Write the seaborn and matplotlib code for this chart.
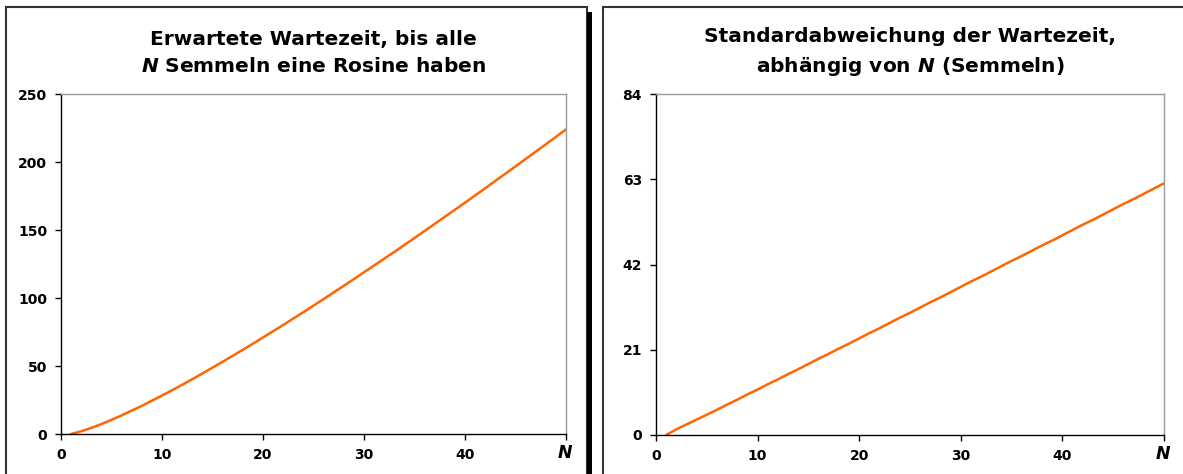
import numpy as np
import pandas as pd
import matplotlib
matplotlib.use("Agg")
import matplotlib.pyplot as plt
import seaborn as sns
from matplotlib.patches import Rectangle

# Daten
n_werte = list(range(1, 51))
erwartung = [0.0, 2.0, 4.5, 7.3, 10.4, 13.7, 17.2, 20.7, 24.5, 28.3,
             32.2, 36.2, 40.3, 44.5, 48.8, 53.1, 57.5, 61.9, 66.4, 71.0,
             75.6, 80.2, 84.9, 89.6, 94.4, 99.2, 104.1, 109.0, 113.9, 118.9,
             123.9, 128.9, 133.9, 139.0, 144.1, 149.3, 154.5, 159.7, 164.9, 170.1,
             175.4, 180.7, 186.1, 191.4, 196.8, 202.2, 207.6, 213.0, 218.5, 224.0]
stdabw = [0.0, 1.4, 2.6, 3.8, 5.0, 6.2, 7.5, 8.7, 10.0, 11.2,
          12.5, 13.7, 15.0, 16.2, 17.5, 18.8, 20.0, 21.3, 22.5, 23.8,
          25.1, 26.3, 27.6, 28.9, 30.1, 31.4, 32.7, 33.9, 35.2, 36.5,
          37.8, 39.0, 40.3, 41.6, 42.9, 44.1, 45.4, 46.7, 47.9, 49.2,
          50.5, 51.8, 53.0, 54.3, 55.6, 56.9, 58.1, 59.4, 60.7, 62.0]

titel_links = "Erwartete Wartezeit, bis alle\n$N$ Semmeln eine Rosine haben"
titel_rechts = "Standardabweichung der Wartezeit,\nabhängig von $N$ (Semmeln)"
yticks_links = [0, 50, 100, 150, 200, 250]
yticks_rechts = [0, 21, 42, 63, 84]
xticks = [0, 10, 20, 30, 40, 50]
xticklabels = ["0", "10", "20", "30", "40", ""]

df = pd.DataFrame({"N": n_werte, "E": erwartung, "S": stdabw})

sns.set_style("white")
plt.rcParams['font.family'] = ['DejaVu Sans']
plt.rcParams['text.color'] = 'black'
plt.rcParams['xtick.color'] = 'black'
plt.rcParams['ytick.color'] = 'black'
plt.rcParams['mathtext.fontset'] = 'custom'
plt.rcParams['mathtext.it'] = 'DejaVu Sans:bold:italic'
plt.rcParams['mathtext.rm'] = 'DejaVu Sans:bold'

W, H = 1183, 474
fig = plt.figure(figsize=(W / 100, H / 100), dpi=100)
fig.patch.set_facecolor("white")


def px_ax(x0, x1, y0, y1):
    # Pixelkoordinaten -> Figurenkoordinaten
    return [x0 / W, 1 - y1 / H, (x1 - x0) / W, (y1 - y0) / H]


ax1 = fig.add_axes(px_ax(61, 566, 94, 434))
ax2 = fig.add_axes(px_ax(656, 1164, 94, 435))

orange = "#FF6600"
sns.lineplot(data=df, x="N", y="E", ax=ax1, color=orange, linewidth=1.8)
sns.lineplot(data=df, x="N", y="S", ax=ax2, color=orange, linewidth=1.8)

for ax, yt, titel in [(ax1, yticks_links, titel_links), (ax2, yticks_rechts, titel_rechts)]:
    ax.set_xlim(0, 50)
    ax.set_ylim(yt[0], yt[-1])
    ax.set_yticks(yt)
    ax.set_yticklabels([str(v) for v in yt], fontsize=10, fontweight="bold")
    ax.set_xticks(xticks)
    ax.set_xticklabels(xticklabels, fontsize=10, fontweight="bold")
    ax.set_xlabel("")
    ax.set_ylabel("")
    ax.tick_params(axis="both", direction="out", length=4, width=1, color="black",
                   pad=6, bottom=True, left=True)
    for s in ["left", "bottom"]:
        ax.spines[s].set_color("black")
        ax.spines[s].set_linewidth(1)
    for s in ["top", "right"]:
        ax.spines[s].set_color("#999999")
        ax.spines[s].set_linewidth(1)
    ax.set_title(titel, fontsize=14.5, fontweight="bold", pad=16, linespacing=1.5,
                 color="black")
    ax.annotate("N", xy=(1, 0), xycoords="axes fraction", xytext=(-1, -7),
                textcoords="offset points", ha="center", va="top", color="black",
                fontsize=12.5, fontweight="bold", fontstyle="italic")

# Rahmen um die beiden Diagramme
rahmen_l = Rectangle((6 / W, -0.05), (587 - 6) / W, 1 - 7 / H + 0.05,
                     transform=fig.transFigure, fill=False, edgecolor="#333333", linewidth=1.5)
schatten = Rectangle((587 / W, -0.05), 5 / W, 1 - 12 / H + 0.05,
                     transform=fig.transFigure, facecolor="black", edgecolor="none")
rahmen_r = Rectangle((603 / W, -0.05), (1200 - 603) / W, 1 - 7 / H + 0.05,
                     transform=fig.transFigure, fill=False, edgecolor="#333333", linewidth=1.5)
for p in [rahmen_l, schatten, rahmen_r]:
    fig.add_artist(p)

plt.savefig("out.png", dpi=100)
